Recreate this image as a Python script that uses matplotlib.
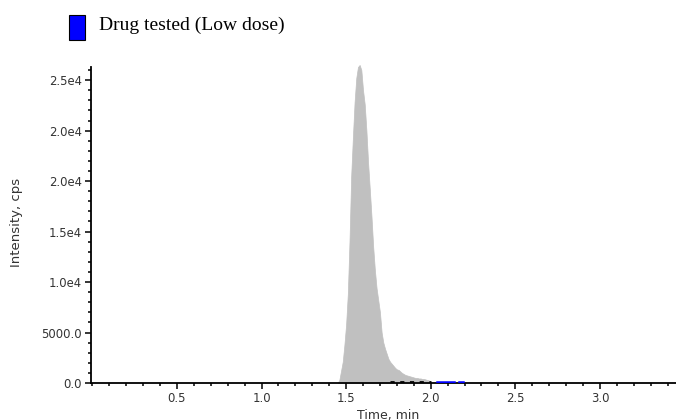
import matplotlib.pyplot as plt
import numpy as np
from matplotlib.patches import Rectangle
from matplotlib.ticker import MultipleLocator

# chromatogram (time in min, intensity in the axis' own units)
peak_time = [1.45, 1.46, 1.47, 1.48, 1.49, 1.50, 1.51, 1.52, 1.53, 1.54,
             1.55, 1.56, 1.57, 1.58, 1.59, 1.60, 1.61, 1.62, 1.63, 1.64,
             1.65, 1.66, 1.67, 1.68, 1.69, 1.70, 1.71, 1.72, 1.73, 1.74,
             1.75, 1.76, 1.77, 1.78, 1.79, 1.80, 1.81, 1.82, 1.83, 1.84,
             1.85, 1.86, 1.87, 1.88, 1.89, 1.90, 1.91, 1.92, 1.93, 1.94,
             1.95, 1.96, 1.97, 1.98, 1.99, 2.00]
peak_int = [0, 300, 1200, 2100, 3800, 5800, 8800, 14000, 20500, 24300,
            27800, 30200, 31300, 31500, 31000, 29000, 27600, 25000, 21800, 19200,
            16500, 13500, 11200, 9400, 8200, 7000, 5000, 4000, 3400, 2900,
            2400, 2100, 1900, 1700, 1500, 1350, 1300, 1150, 1000, 900,
            800, 750, 700, 650, 600, 550, 500, 500, 450, 450,
            400, 400, 350, 300, 250, 0]

# small traces near the baseline
dotted_time = [1.76, 2.00]
dotted_int = [120, 120]
blue_time = [2.04, 2.135]
blue_int = [120, 120]
blue2_time = [2.17, 2.19]
blue2_int = [120, 120]

ytick_vals = [0, 5000, 10000, 15000, 20000, 25000, 30000]
ytick_labels = ['0.0', '5000.0', '1.0e4', '1.5e4', '2.0e4', '2.0e4', '2.5e4']
xtick_vals = [0.5, 1.0, 1.5, 2.0, 2.5, 3.0]

plt.rcParams['font.family'] = ['DejaVu Sans']

fig = plt.figure(figsize=(6.76, 4.2), dpi=100)
ax = fig.add_axes([91 / 676, 1 - 383 / 420, 1 - 91 / 676, (383 - 67) / 420])

ax.fill_between(peak_time, peak_int, 0, facecolor='#c0c0c0', edgecolor='#c0c0c0',
                linewidth=0.5, clip_on=False, zorder=1)
ax.plot(dotted_time, dotted_int, color='black', lw=2, linestyle=(0, (1.5, 2)), zorder=3)
ax.plot(blue_time, blue_int, color='#0000ff', lw=1.8, zorder=3)
ax.plot(blue2_time, blue2_int, color='#0000ff', lw=1.8, zorder=3)

ax.set_xlim(-0.008, 3.45)
ax.set_ylim(0, 31300)
ax.set_xticks(xtick_vals)
ax.set_xticklabels([f'{v:.1f}' for v in xtick_vals])
ax.set_yticks(ytick_vals)
ax.set_yticklabels(ytick_labels)
ax.xaxis.set_minor_locator(MultipleLocator(0.1))
ax.yaxis.set_minor_locator(MultipleLocator(1000))

for s in ['top', 'right']:
    ax.spines[s].set_visible(False)
for s in ['left', 'bottom']:
    ax.spines[s].set_linewidth(1.3)

ax.tick_params(axis='both', which='major', length=4, width=1.1, labelsize=8.4,
               colors='black', labelcolor='#333333', pad=2.5)
ax.tick_params(axis='both', which='minor', length=2, width=1.1)

# axis titles
fig.text(17 / 676, 1 - 222 / 420, 'Intensity, cps', rotation=90, fontsize=9.5,
         ha='center', va='center', color='#333333')
fig.text(388 / 676, 1 - 415 / 420, 'Time, min', fontsize=9,
         ha='center', va='center', color='#333333')

# legend swatch and text at the top
fig.patches.append(Rectangle((69 / 676, 1 - 40 / 420), 16 / 676, 25 / 420,
                             transform=fig.transFigure, facecolor='#0000ff',
                             edgecolor='black', linewidth=0.8))
fig.text(99 / 676, 1 - 25 / 420, 'Drug tested (Low dose)', family='Liberation Serif',
         fontsize=14, va='center', ha='left', color='black')

plt.savefig('out.png', dpi=100)
plt.close(fig)
